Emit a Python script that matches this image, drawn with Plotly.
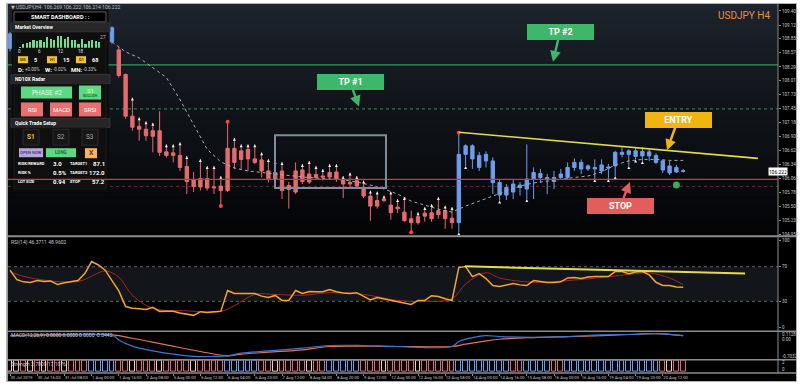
import plotly.graph_objects as go

W, H = 800, 386
FONT = "Roboto, DejaVu Sans, sans-serif"

# ---------------- data ----------------
open_ = [108.66, 108.95, 108.82, 108.76, 108.60, 108.68, 108.74, 108.83, 108.78, 108.70,
         108.79, 108.95, 109.05, 109.12, 109.22, 109.07, 108.63, 108.14, 107.31, 107.11,
         107.05, 106.91, 107.02, 106.60, 106.53, 106.53, 106.31, 106.04, 105.90, 106.07,
         105.88, 105.92, 105.83, 106.67, 106.45, 106.65, 106.46, 106.44, 106.22, 106.06,
         106.22, 105.85, 105.80, 106.01, 106.16, 106.09, 106.12, 106.10, 106.20, 106.03,
         105.96, 106.03, 105.88, 105.72, 105.52, 105.63, 105.54, 105.47, 105.40, 105.27,
         105.19, 105.32, 105.39, 105.35, 105.43, 105.28, 105.19, 106.55, 106.72, 106.53,
         106.42, 106.42, 105.99, 105.74, 105.80, 105.94, 105.86, 106.06, 106.17, 106.09,
         106.09, 106.09, 106.09, 106.29, 106.39, 106.26, 106.29, 106.22, 106.30, 106.32,
         106.59, 106.55, 106.62, 106.52, 106.60, 106.53, 106.42, 106.32, 106.20, 106.21]
high = [108.99, 109.02, 108.90, 108.80, 108.72, 108.80, 108.86, 108.90, 108.85, 108.82,
        108.98, 109.10, 109.20, 109.30, 109.32, 109.10, 108.69, 108.16, 107.68, 107.29,
        107.21, 107.18, 107.41, 106.75, 106.75, 106.79, 106.52, 106.20, 106.46, 106.32,
        106.32, 106.12, 107.20, 106.88, 106.75, 106.75, 106.75, 106.59, 106.46, 106.42,
        106.40, 106.00, 106.39, 106.36, 106.42, 106.32, 106.26, 106.36, 106.36, 106.12,
        106.19, 106.12, 106.03, 105.83, 105.81, 105.73, 105.81, 105.66, 105.70, 105.43,
        105.40, 105.50, 105.56, 105.70, 105.53, 105.50, 106.98, 106.75, 106.75, 106.60,
        106.61, 106.49, 106.06, 105.96, 106.04, 106.00, 106.75, 106.29, 106.26, 106.16,
        106.22, 106.26, 106.39, 106.47, 106.45, 106.35, 106.45, 106.45, 106.36, 106.62,
        106.69, 106.65, 106.69, 106.69, 106.65, 106.57, 106.45, 106.42, 106.34, 106.26]
low = [108.60, 108.78, 108.70, 108.55, 108.52, 108.62, 108.70, 108.72, 108.66, 108.64,
       108.75, 108.90, 108.98, 109.04, 109.02, 108.75, 108.08, 107.26, 107.02, 106.82,
       106.82, 106.59, 106.52, 106.49, 106.39, 106.22, 105.76, 105.80, 105.83, 105.83,
       105.76, 105.52, 105.80, 106.26, 106.26, 106.22, 106.36, 106.09, 105.99, 106.00,
       105.66, 105.47, 105.76, 105.96, 105.96, 106.06, 106.03, 106.06, 106.00, 105.68,
       105.90, 105.86, 105.68, 105.23, 105.47, 105.60, 105.25, 105.38, 105.21, 105.00,
       105.15, 105.21, 105.21, 105.27, 105.07, 105.07, 105.00, 106.32, 106.26, 106.22,
       106.29, 105.76, 105.63, 105.64, 105.66, 105.73, 105.66, 105.66, 105.99, 105.76,
       105.86, 106.04, 106.06, 106.22, 106.16, 106.22, 106.06, 106.16, 106.06, 106.12,
       106.49, 106.32, 106.45, 106.42, 106.42, 106.36, 106.18, 106.14, 106.18, 106.19]
close = [108.95, 108.82, 108.76, 108.60, 108.68, 108.74, 108.83, 108.78, 108.70, 108.79,
         108.95, 109.05, 109.12, 109.22, 109.07, 108.79, 108.12, 107.31, 107.09, 107.05,
         106.92, 107.02, 106.59, 106.53, 106.58, 106.29, 106.01, 105.91, 106.07, 105.88,
         105.90, 105.83, 106.67, 106.39, 106.62, 106.46, 106.39, 106.22, 106.07, 106.19,
         105.83, 105.93, 106.22, 106.24, 106.00, 106.15, 106.10, 106.19, 106.05, 105.96,
         105.99, 105.92, 105.72, 105.52, 105.63, 105.66, 105.39, 105.50, 105.23, 105.19,
         105.31, 105.38, 105.27, 105.43, 105.27, 105.19, 106.55, 106.72, 106.46, 106.29,
         106.55, 105.99, 105.74, 105.89, 105.96, 105.89, 106.06, 106.19, 106.09, 106.05,
         106.01, 106.16, 106.29, 106.39, 106.26, 106.32, 106.26, 106.34, 106.28, 106.59,
         106.55, 106.62, 106.51, 106.61, 106.52, 106.39, 106.24, 106.18, 106.29, 106.222]
# trend regime colouring of candles (U = blue / up-trend, D = red / down-trend)
trend = ("UUUUUUUUUUUUUUUU"
         "DDDDDDDDDDDDDDDDDDDDDDDDDDDDDDDDDDDDDDDDDDDDDDDDDD"
         "UUUUUUUUUUUUUUUUUUUUUUUUUUUUUUUUUU")

tick_labels = ["30 Jul 2019", "30 Jul 16:00", "31 Jul 08:00", "1 Aug 00:00", "1 Aug 16:00",
               "2 Aug 08:00", "5 Aug 00:00", "5 Aug 12:00", "6 Aug 04:00", "6 Aug 20:00",
               "7 Aug 12:00", "8 Aug 04:00", "8 Aug 20:00", "9 Aug 12:00", "12 Aug 00:00",
               "12 Aug 16:00", "13 Aug 08:00", "14 Aug 00:00", "14 Aug 16:00", "15 Aug 08:00",
               "16 Aug 00:00", "16 Aug 16:00", "19 Aug 04:00", "19 Aug 20:00", "20 Aug 12:00"]
BARS_PER_LABEL = 4

price_ticks = [109.405, 109.125, 108.850, 108.570, 108.290, 108.015, 107.735, 107.455,
               107.180, 106.900, 106.620, 106.345, 106.065, 105.785, 105.505, 105.230, 104.950]

ma_idx = list(range(15, 100, 2))
ma_vals = [108.79, 108.59, 108.47, 108.28, 108.08, 107.64, 107.15, 106.65, 106.40, 106.28,
           106.22, 106.19, 106.16, 106.12, 106.10, 106.08, 106.06, 106.04, 106.00, 105.94,
           105.86, 105.76, 105.62, 105.54, 105.46, 105.40, 105.52, 105.62, 105.72, 105.82,
           105.92, 105.98, 106.02, 106.06, 106.09, 106.12, 106.20, 106.34, 106.42, 106.45,
           106.45, 106.43, 106.43]

frac_hi = [18, 19, 20, 21, 23, 24, 25, 26, 28, 29, 30, 31, 33, 34, 35, 36, 37, 38, 39, 40,
           43, 44, 45, 46, 47, 48, 49, 50, 51, 52, 53, 54, 55, 56, 57, 58, 60, 61, 62, 63, 64, 65]
frac_lo = [66, 67, 72, 76, 86, 88, 89, 91, 92, 93]
dots_hi = [32, 66]
dots_lo = [31, 59]

TP2 = 108.33
TP1 = 107.455
STOP = 106.052
STOP_B = 105.914
CURRENT = 106.222
trend_x = [66, 110]
trend_y = [106.99, 106.47]
zone_x = [38.97, 55.29]
zone_y = [105.88, 106.93]
signal_bar = 98
signal_price = 105.94

rsi = [66, 55, 52.5, 51.7, 54, 53, 53.5, 49.4, 51.5, 52.5,
       54, 62, 75.9, 72, 66, 54, 42, 24, 22, 21.5,
       20.7, 23, 18.4, 18.6, 18.4, 16.5, 15, 13.8, 18, 17.2,
       18, 18.4, 42.5, 39, 39, 39, 39, 36, 34.5, 36.8,
       31, 31, 42.5, 39, 41.4, 41, 41, 43.7, 41, 39.5,
       39, 40, 35.6, 31.5, 34.5, 33, 31.5, 30, 28.5, 26.4,
       31, 31, 36.5, 35.6, 33, 31, 69, 70.1, 58.6, 62,
       56.3, 48.3, 47.1, 49, 50.6, 49, 48.3, 54, 53, 51.7,
       51.7, 52.5, 57, 57.5, 56.3, 58, 58.6, 58.6, 58.6, 64.4,
       64.4, 62, 64, 64.4, 60.5, 52, 48.3, 48.3, 46.5, 46.37]
rsi_ma_idx = [0, 3, 10, 14, 16, 18, 21, 26, 31, 33, 36, 39, 43, 47, 52, 57, 61, 65, 67, 70,
              72, 77, 82, 87, 92, 94, 97, 99]
rsi_ma_vals = [64, 57, 53, 65, 58, 37, 22, 19, 18.4, 25, 38, 38, 37, 40, 38, 31, 30, 33, 50, 63,
               57, 52, 54, 57.5, 62, 63, 57, 49.4]
rsi_trend_x = [66.9, 108.1]
rsi_trend_y = [70.5, 62.1]

macd_idx = [0, 11, 15, 16, 18, 21, 24, 27, 30, 32, 34, 38, 43, 47, 52, 57, 65, 66, 68, 70,
            72, 77, 82, 87, 92, 95, 99]
macd_main = [0.065, 0.087, 0.087, -0.098, -0.332, -0.507, -0.629, -0.714, -0.714, -0.692,
             -0.592, -0.507, -0.406, -0.306, -0.306, -0.343, -0.343, -0.158, -0.010, 0.065,
             0.027, 0.002, 0.027, 0.087, 0.113, 0.139, 0.065]
sig_idx = [0, 15, 18, 23, 28, 32, 34, 38, 43, 47, 57, 65, 67, 70, 72, 77, 82, 87, 92, 95, 99]
macd_signal = [0.065, 0.087, -0.036, -0.284, -0.529, -0.692, -0.629, -0.555, -0.469, -0.343,
               -0.343, -0.343, -0.258, -0.136, -0.073, -0.010, 0.027, 0.065, 0.113, 0.139, 0.065]
macd_scale_labels = ["0.1128", "0.00", "-0.7032"]

strip_state = ("WWRWRWRRWRRR" "BBBB" "RRWRRRWRRRRWRRRR" "BBBBB" "RRWRRRRWRR" "BBBBB"
               "RRRWRRRRWRRRRR" "BBBBBBBB" "RR" "BBBB" "RR" "BBBBBBBBBBBBBB" "RWRR")
STRIP_LEVEL = 2

hour_volume = [2, 9, 11, 13, 17, 15, 19, 13, 24, 21, 19, 26, 27, 21, 25, 17, 19, 10, 21, 10,
               15, 17, 15, 13]

# ---------------- pixel calibration ----------------
def px(x):
    return x / W


def py(y):
    return 1 - y / H


def price_at(y):
    return 109.405 - (y - 11) / 50.5


def bar_at(x):
    return (x - 10) / 6.8


def rsi_at(y):
    return (329 - y) / 0.87


def macd_at(y):
    return 0.1128 - (y - 336) * 0.0371


N = len(close)
idx = list(range(N))
X0, X1 = bar_at(8), bar_at(778)

RED = "#e66b6f"
BLUE = "#6d9eeb"

fig = go.Figure()

# ---------------- main price pane ----------------
for key, col in (("D", RED), ("U", BLUE)):
    sel = [i for i in idx if trend[i] == key]
    fig.add_trace(go.Candlestick(
        x=sel, open=[open_[i] for i in sel], high=[high[i] for i in sel],
        low=[low[i] for i in sel], close=[close[i] for i in sel],
        increasing=dict(line=dict(color=col, width=1), fillcolor=col),
        decreasing=dict(line=dict(color=col, width=1), fillcolor=col),
        whiskerwidth=0, xaxis="x", yaxis="y", hoverinfo="skip", showlegend=False))

fig.add_trace(go.Scatter(x=ma_idx, y=ma_vals, mode="lines",
                         line=dict(color="#a9aeb5", width=1, dash="dot"),
                         xaxis="x", yaxis="y", hoverinfo="skip", showlegend=False))
fig.add_trace(go.Scatter(x=frac_hi, y=[high[i] for i in frac_hi], mode="markers",
                         marker=dict(symbol="arrow-up", size=3, color="#eeeeee"),
                         xaxis="x", yaxis="y", hoverinfo="skip", showlegend=False))
fig.add_trace(go.Scatter(x=frac_lo, y=[low[i] for i in frac_lo], mode="markers",
                         marker=dict(symbol="arrow-up", size=3, color="#eeeeee"),
                         xaxis="x", yaxis="y", hoverinfo="skip", showlegend=False))
fig.add_trace(go.Scatter(x=dots_hi + dots_lo,
                         y=[high[i] for i in dots_hi] + [low[i] for i in dots_lo],
                         mode="markers", marker=dict(symbol="circle", size=4, color="#ff4040"),
                         xaxis="x", yaxis="y", hoverinfo="skip", showlegend=False))
fig.add_trace(go.Scatter(x=trend_x, y=trend_y, mode="lines",
                         line=dict(color="#e3dc4a", width=1.6),
                         xaxis="x", yaxis="y", hoverinfo="skip", showlegend=False))
fig.add_trace(go.Scatter(x=[signal_bar], y=[signal_price], mode="markers",
                         marker=dict(symbol="circle", size=7, color="#3fa85a"),
                         xaxis="x", yaxis="y", hoverinfo="skip", showlegend=False))

# ---------------- RSI pane ----------------
fig.add_trace(go.Scatter(x=rsi_ma_idx, y=rsi_ma_vals, mode="lines",
                         line=dict(color="#a3262c", width=1, shape="spline"),
                         xaxis="x2", yaxis="y2", hoverinfo="skip", showlegend=False))
fig.add_trace(go.Scatter(x=idx, y=rsi, mode="lines", line=dict(color="#f5a431", width=1.5),
                         xaxis="x2", yaxis="y2", hoverinfo="skip", showlegend=False))
fig.add_trace(go.Scatter(x=rsi_trend_x, y=rsi_trend_y, mode="lines",
                         line=dict(color="#e3dc4a", width=2),
                         xaxis="x2", yaxis="y2", hoverinfo="skip", showlegend=False))

# ---------------- MACD pane ----------------
fig.add_trace(go.Scatter(x=sig_idx, y=macd_signal, mode="lines",
                         line=dict(color="#e2725a", width=1.2, shape="spline"),
                         xaxis="x3", yaxis="y3", hoverinfo="skip", showlegend=False))
fig.add_trace(go.Scatter(x=macd_idx, y=macd_main, mode="lines",
                         line=dict(color="#3f74d6", width=1.2, shape="spline"),
                         xaxis="x3", yaxis="y3", hoverinfo="skip", showlegend=False))

# ---------------- strip pane ----------------
strip_col = {"R": "#e0667f", "W": "#f1c6cc", "B": "#6d9eeb"}
fig.add_trace(go.Bar(x=idx, y=[STRIP_LEVEL] * N, base=0, width=0.72,
                     marker=dict(color="#000000",
                                 line=dict(color=[strip_col[s] for s in strip_state], width=1)),
                     xaxis="x4", yaxis="y4", hoverinfo="skip", showlegend=False))


# ---------------- dashboard (pixel overlay subplot) ----------------
def rect_tr(x0, y0, x1, y1, fill, line=None, lw=0.8):
    fig.add_trace(go.Scatter(
        x=[x0, x1, x1, x0, x0], y=[y0, y0, y1, y1, y0], mode="lines", fill="toself",
        fillcolor=fill, line=dict(color=line if line else fill, width=lw if line else 0.1),
        xaxis="x5", yaxis="y5", hoverinfo="skip", showlegend=False))


rect_tr(12, 10, 108.5, 193, "#0b0b0b")
rect_tr(14, 12, 106, 22, "#000000", "#5c5c5c", 1)
rect_tr(11, 23, 110, 32, "#262626", "#3a3a3a")
rect_tr(14, 32.5, 106, 74.5, "#0f0f0f", "#1e1e1e")
rect_tr(11, 75, 110, 84, "#262626", "#3a3a3a")
rect_tr(14, 84.5, 106, 118.5, "#0f0f0f", "#1e1e1e")
rect_tr(11, 119, 110, 128, "#262626", "#3a3a3a")
rect_tr(14, 128.5, 106, 190, "#0f0f0f", "#1e1e1e")
BADGE_X = (18, 47, 76)
for bx in BADGE_X:
    rect_tr(bx, 56.5, bx + 10, 63.5, "#f1c232")
GREEN_BTN = "#5bd985"
RED_BTN = "#ea6f6f"
rect_tr(21, 87, 72, 99, GREEN_BTN)
rect_tr(79, 86, 101, 100, GREEN_BTN)
rect_tr(21, 103, 43, 117, RED_BTN)
rect_tr(50, 103, 72, 117, RED_BTN)
rect_tr(79, 103, 101, 117, RED_BTN)
for bx in (23, 53, 82):
    rect_tr(bx, 130, bx + 16, 146, "#161616", "#303030")
rect_tr(19, 149, 43, 158, "#b4a7d6")
rect_tr(46, 149, 76, 158, GREEN_BTN)
rect_tr(85, 149, 97, 159, "#f6b26b")

# mini hourly bar chart
fig.add_trace(go.Bar(x=list(range(len(hour_volume))), y=hour_volume, width=0.62,
                     marker=dict(color=["#d9d9d9"] + ["#74dc92"] * (len(hour_volume) - 1),
                                 line=dict(width=0)),
                     xaxis="x6", yaxis="y6", hoverinfo="skip", showlegend=False))

# ---------------- shapes ----------------
shapes = []
shapes.append(dict(type="rect", xref="paper", yref="paper", x0=px(7), x1=px(796),
                   y0=py(383), y1=py(4), fillcolor="#000000", line=dict(width=0), layer="below"))
TOP_C, BOT_C = (30, 37, 46), (3, 4, 6)
NB = 48
for k in range(NB):
    ya = 4 + (237 - 4) * k / NB
    yb = 4 + (237 - 4) * (k + 1) / NB + 0.6
    t = ((k + 0.5) / NB) ** 0.85
    c = tuple(round(a + (b - a) * t) for a, b in zip(TOP_C, BOT_C))
    shapes.append(dict(type="rect", xref="paper", yref="paper", x0=px(8), x1=px(778),
                       y0=py(min(yb, 237)), y1=py(ya), fillcolor="rgb(%d,%d,%d)" % c,
                       line=dict(width=0), layer="below"))
# RSI band
shapes.append(dict(type="rect", xref="paper", yref="y2", x0=px(8), x1=px(778), y0=30, y1=70,
                   fillcolor="#121519", line=dict(width=0), layer="below"))
for lv in (70, 30):
    shapes.append(dict(type="line", xref="paper", yref="y2", x0=px(8), x1=px(778), y0=lv, y1=lv,
                       line=dict(color="#7a7a7a", width=0.8, dash="dot"), layer="below"))
# level lines
shapes.append(dict(type="line", xref="paper", yref="y", x0=px(8), x1=px(778), y0=TP2, y1=TP2,
                   line=dict(color="#2f9a5c", width=1.3), layer="below"))
shapes.append(dict(type="line", xref="paper", yref="y", x0=px(8), x1=px(778), y0=TP1, y1=TP1,
                   line=dict(color="#3a8f52", width=1, dash="dot"), layer="below"))
shapes.append(dict(type="line", xref="paper", yref="y", x0=px(8), x1=px(778), y0=STOP_B, y1=STOP_B,
                   line=dict(color="#7c2434", width=1, dash="dot"), layer="below"))
shapes.append(dict(type="line", xref="paper", yref="y", x0=px(8), x1=px(778), y0=STOP, y1=STOP,
                   line=dict(color="#cf3450", width=1.4), layer="above"))
# consolidation zone box
shapes.append(dict(type="rect", xref="x", yref="y", x0=zone_x[0], x1=zone_x[1],
                   y0=zone_y[0], y1=zone_y[1], line=dict(color="#7f8d9c", width=2),
                   fillcolor="rgba(0,0,0,0)", layer="above"))
# separators / frame
for yy, lw in ((237.5, 2), (333, 1.5), (361.5, 1.5), (375, 1.5)):
    shapes.append(dict(type="line", xref="paper", yref="paper", x0=px(7), x1=px(796),
                       y0=py(yy), y1=py(yy), line=dict(color="#8c8c8c", width=lw), layer="above"))
shapes.append(dict(type="line", xref="paper", yref="paper", x0=px(778), x1=px(778),
                   y0=py(375), y1=py(4), line=dict(color="#8c8c8c", width=1), layer="above"))
shapes.append(dict(type="line", xref="paper", yref="paper", x0=px(7.5), x1=px(7.5),
                   y0=py(383), y1=py(4), line=dict(color="#9a9a9a", width=1), layer="above"))
shapes.append(dict(type="rect", xref="paper", yref="paper", x0=px(6.5), x1=px(796.5),
                   y0=py(383.5), y1=py(3.5), line=dict(color="#b0b0b0", width=1),
                   fillcolor="rgba(0,0,0,0)", layer="above"))


# ---------------- annotations ----------------
def txt(x, y, s, size=5, color="#c8c8c8", bold=False, xanchor="left", **kw):
    fig.add_annotation(x=px(x), y=py(y), xref="paper", yref="paper",
                       text="<b>%s</b>" % s if bold else s, showarrow=False,
                       xanchor=xanchor, yanchor="middle", borderpad=0,
                       font=dict(size=size, color=color, family=FONT), **kw)


txt(10, 7.5, "▼ USDJPY,H4  106.269 106.222 106.214 106.222", 5, "#bdbdbd")
txt(771, 16, "USDJPY H4", 10, "#e69138", xanchor="right")
txt(10, 244, "RSI(14) 46.3711 48.9602", 5, "#c8c8c8")
txt(10, 337, "MACD(12,26,9) 0.0000 0.0000 0.0000 -0.0442", 5, "#d0d0d0")
txt(10, 365.5, "Strength 2.7800 17.1076", 5, "#d0d0d0")
txt(781, 364, "2", 4.5)
txt(781, 371, "0", 4.5)
for lab, yy in zip(macd_scale_labels, (336, 341.5, 358)):
    txt(781, yy, lab, 4.5)
fig.add_annotation(x=px(787.5), y=py(172), xref="paper", yref="paper", text="%.3f" % CURRENT,
                   showarrow=False, bgcolor="#ffffff", font=dict(size=5, color="#000", family=FONT),
                   width=17, height=6, borderpad=0.5)

# dashboard texts
txt(60, 17, "SMART DASHBOARD : :", 5.5, "#ffffff", True, "center")
txt(14, 27.5, "Market Overview", 5, "#ffffff", True)
txt(103.5, 37, "27", 5, "#bbbbbb", xanchor="center")
for hv in (0, 6, 12, 18):
    fig.add_annotation(x=hv, y=py(51.5), xref="x6", yref="paper", text=str(hv), showarrow=False,
                       borderpad=0, yanchor="middle",
                       font=dict(size=4.5, color="#e0e0e0", family=FONT))
for bx, lab, val in zip(BADGE_X, ("M5", "H1", "D1"), ("5", "15", "68")):
    txt(bx + 5, 60.2, lab, 4, "#4a3b00", True, "center")
    txt(bx + 14.5, 60.2, val, 5.5, "#ffffff", True)
txt(17, 70, "D:", 6, "#ffffff", True)
txt(24, 70.3, "+0.00%", 4.5, "#d0d0d0")
txt(44, 70, "W:", 6, "#ffffff", True)
txt(51.5, 70.3, "-0.02%", 4.5, "#d0d0d0")
txt(70, 70, "MN:", 6, "#ffffff", True)
txt(81.5, 70.3, "-0.33%", 4.5, "#d0d0d0")
txt(14, 79.5, "ND10X Radar", 5, "#ffffff", True)
txt(46.5, 93, "PHASE #2", 6.5, "#eafbef", False, "center")
txt(90, 91, "S1", 5.5, "#f4f08a", True, "center")
txt(90, 96.5, "BULLISH", 3.6, "#1d6b35", True, "center")
txt(32, 110, "RSI", 6, "#ffffff", False, "center")
txt(61, 110, "MACD", 6, "#ffffff", False, "center")
txt(90, 110, "SRSI", 6, "#ffffff", False, "center")
txt(14, 123.5, "Quick Trade Setup", 5, "#ffffff", True)
txt(31, 138, "S1", 6.5, "#f1c232", True, "center")
txt(60.5, 138, "S2", 6.5, "#a6a6a6", False, "center")
txt(90, 138, "S3", 6.5, "#a6a6a6", False, "center")
txt(31, 153.5, "OPEN NOW", 4.2, "#5b3a9c", True, "center")
txt(61, 153.5, "LONG", 4.5, "#1f6b35", True, "center")
txt(91, 154, "X", 7, "#7a3b00", True, "center")
rows = [("RISK/REWARD", "3.0", "TARGET1", "87.1"),
        ("RISK %", "0.5%", "TARGET2", "172.0"),
        ("LOT SIZE", "0.94", "STOP", "57.2")]
for r, (a, b, c, d) in enumerate(rows):
    yy = 164 + 9 * r
    txt(17, yy, a, 4, "#ffffff", True)
    txt(52, yy, b, 6, "#ffffff", True)
    txt(69, yy, c, 4, "#ffffff", True)
    txt(106, yy, d, 6, "#ffffff", True, "right")


# callouts with arrows
def callout(tip_px, box_px, text, col, w=62, h=11):
    fig.add_annotation(x=bar_at(tip_px[0]), y=price_at(tip_px[1]), xref="x", yref="y",
                       ax=box_px[0] - tip_px[0], ay=box_px[1] - tip_px[1],
                       text="<b>%s</b>" % text, showarrow=True, arrowhead=2, arrowsize=0.9,
                       arrowwidth=2.4, arrowcolor=col, bgcolor=col, bordercolor=col,
                       borderpad=1.5, width=w, height=h,
                       font=dict(size=9, color="#ffffff", family=FONT))


callout((553, 62), (560, 32), "TP #2", "#3db86b")
callout((359, 107), (350, 82.5), "TP #1", "#3db86b")
callout((667, 151), (678, 120.5), "ENTRY", "#f1b512")
callout((630, 183), (620.5, 206.5), "STOP", "#e35d5b")

# ---------------- axes ----------------
tickfont = dict(size=4.5, color="#c8c8c8", family=FONT)
xcommon = dict(domain=[px(8), px(778)], range=[X0, X1], showgrid=False, zeroline=False,
               showline=False, fixedrange=True)
fig.update_layout(
    width=W, height=H, margin=dict(l=0, r=0, t=0, b=0),
    paper_bgcolor="#ffffff", plot_bgcolor="rgba(0,0,0,0)",
    showlegend=False, hovermode=False, shapes=shapes,
    xaxis=dict(**xcommon, anchor="y", showticklabels=False, rangeslider=dict(visible=False)),
    xaxis2=dict(**xcommon, anchor="y2", showticklabels=False),
    xaxis3=dict(**xcommon, anchor="y3", showticklabels=False),
    xaxis4=dict(**xcommon, anchor="y4", showticklabels=True,
                tickvals=list(range(0, N, BARS_PER_LABEL))[:len(tick_labels)],
                ticktext=tick_labels, tickangle=0,
                tickfont=dict(size=4.2, color="#c8c8c8", family=FONT),
                ticks="outside", ticklen=2,
                tickcolor="#8c8c8c", ticklabelposition="outside right"),
    yaxis=dict(domain=[py(237), py(4)], range=[price_at(237), price_at(4)], anchor="x",
               side="right", tickvals=price_ticks, ticktext=["%.3f" % v for v in price_ticks],
               tickfont=tickfont, ticks="outside", ticklen=2, tickcolor="#8c8c8c",
               showgrid=False, zeroline=False, fixedrange=True),
    yaxis2=dict(domain=[py(332), py(239)], range=[rsi_at(332), rsi_at(239)], anchor="x2",
                side="right", tickvals=[100, 70, 30, 0], tickfont=tickfont, ticks="outside",
                ticklen=2, tickcolor="#8c8c8c", showgrid=False, zeroline=False, fixedrange=True),
    yaxis3=dict(domain=[py(361), py(334)], range=[macd_at(361), macd_at(334)], anchor="x3",
                showticklabels=False, showgrid=False, zeroline=False, fixedrange=True),
    yaxis4=dict(domain=[py(374.5), py(361.5)], range=[-0.1, STRIP_LEVEL + 0.1], anchor="x4",
                showticklabels=False, showgrid=False, zeroline=False, fixedrange=True),
    xaxis5=dict(domain=[0, 1], range=[0, W], anchor="y5", visible=False, fixedrange=True),
    yaxis5=dict(domain=[0, 1], range=[H, 0], anchor="x5", visible=False, fixedrange=True),
    xaxis6=dict(domain=[px(17.5), px(100.5)], range=[-0.5, len(hour_volume) - 0.5], anchor="y6",
                visible=False, fixedrange=True),
    yaxis6=dict(domain=[py(48), py(36)], range=[0, max(hour_volume)], anchor="x6",
                visible=False, fixedrange=True),
    bargap=0,
)

fig.write_html("out.html")
